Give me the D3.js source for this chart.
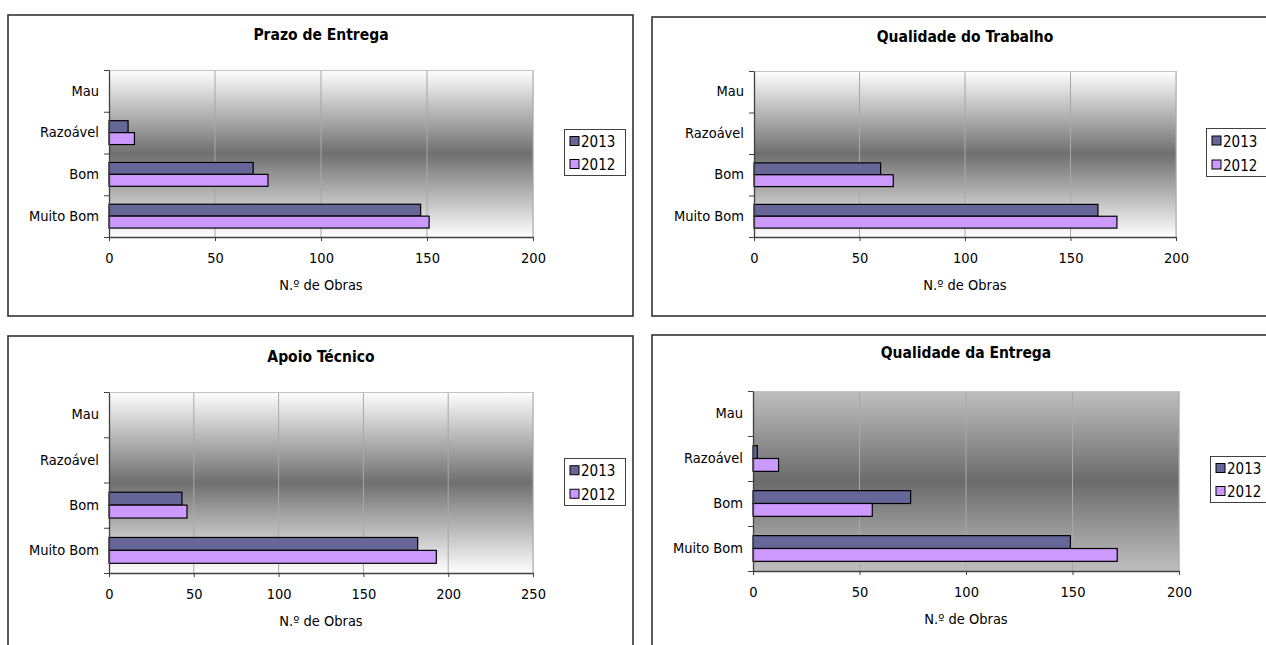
<!DOCTYPE html>
<html>
<head>
<meta charset="utf-8">
<script src="https://cdn.jsdelivr.net/npm/d3@7"></script>
<style>
  html, body { margin: 0; padding: 0; background: #ffffff; }
  svg { display: block; }
  text { font-family: "DejaVu Sans Condensed", "DejaVu Sans", sans-serif; font-stretch: condensed; fill: #000; }
</style>
</head>
<body>
<svg id="chart" width="1266" height="645"></svg>
<script>
// ---------- DATA ----------
const categories = ["Mau", "Razoável", "Bom", "Muito Bom"];
const seriesNames = ["2013", "2012"];
const seriesColors = ["#666699", "#CC99FF"];
const axisTitle = "N.º de Obras";

const titles = ["Prazo de Entrega", "Qualidade do Trabalho", "Apoio Técnico", "Qualidade da Entrega"];
const xMaxes = [200, 200, 250, 200];
const xTicks = [
  [0, 50, 100, 150, 200],
  [0, 50, 100, 150, 200],
  [0, 50, 100, 150, 200, 250],
  [0, 50, 100, 150, 200]
];

const prazo2013 = [0, 9, 68, 147];
const prazo2012 = [0, 12, 75, 151];
const trabalho2013 = [0, 0, 60, 163];
const trabalho2012 = [0, 0, 66, 172];
const apoio2013 = [0, 0, 43, 182];
const apoio2012 = [0, 0, 46, 193];
const entrega2013 = [0, 2, 74, 149];
const entrega2012 = [0, 12, 56, 171];

// ---------- LAYOUT ----------
const FONT = '"DejaVu Sans Condensed", "DejaVu Sans", sans-serif';
const FS = 14.5;

const panels = [
  { box: [8, 15, 633, 316], plot: [109, 70, 533, 237], legend: [564, 129, 625, 175], titleY: 40, bg: "light",
    data: [prazo2013, prazo2012] },
  { box: [652, 17, 1290, 316], plot: [754, 71, 1176, 237], legend: [1206, 128, 1290, 176], titleY: 42, bg: "light",
    data: [trabalho2013, trabalho2012] },
  { box: [8, 336, 633, 660], plot: [109, 392, 533, 573], legend: [564, 458, 625, 505], titleY: 362, bg: "light",
    data: [apoio2013, apoio2012] },
  { box: [652, 335, 1290, 660], plot: [753, 391, 1179, 571], legend: [1210, 456, 1290, 502], titleY: 358, bg: "dark",
    data: [entrega2013, entrega2012] }
];

const svg = d3.select("#chart");
const defs = svg.append("defs");

const gLight = defs.append("linearGradient").attr("id", "gradLight")
  .attr("x1", 0).attr("y1", 0).attr("x2", 0).attr("y2", 1);
gLight.append("stop").attr("offset", "0%").attr("stop-color", "#ffffff");
gLight.append("stop").attr("offset", "50%").attr("stop-color", "#6f6f6f");
gLight.append("stop").attr("offset", "100%").attr("stop-color", "#ffffff");

const gDark = defs.append("linearGradient").attr("id", "gradDark")
  .attr("x1", 0).attr("y1", 0).attr("x2", 0).attr("y2", 1);
gDark.append("stop").attr("offset", "0%").attr("stop-color", "#bfbfbf");
gDark.append("stop").attr("offset", "50%").attr("stop-color", "#6b6b6b");
gDark.append("stop").attr("offset", "100%").attr("stop-color", "#bfbfbf");

panels.forEach((p, i) => {
  const g = svg.append("g");
  const [bx0, by0, bx1, by1] = p.box;
  const [px0, py0, px1, py1] = p.plot;

  // outer chart border
  g.append("rect")
    .attr("x", bx0).attr("y", by0)
    .attr("width", bx1 - bx0).attr("height", by1 - by0)
    .attr("fill", "#ffffff").attr("stroke", "#333333").attr("stroke-width", 1.6);

  const x = d3.scaleLinear().domain([0, xMaxes[i]]).range([px0, px1]);
  const y = d3.scaleBand().domain(categories).range([py0, py1]).paddingInner(0).paddingOuter(0);
  const yInner = d3.scaleBand().domain(seriesNames).range([0, y.bandwidth()]).paddingInner(0).paddingOuter(0.75);
  const yIdx = d3.scaleLinear().domain([0, categories.length]).range([py0, py1]);

  // plot background
  g.append("rect")
    .attr("x", px0).attr("y", py0)
    .attr("width", px1 - px0).attr("height", py1 - py0)
    .attr("fill", p.bg === "dark" ? "url(#gradDark)" : "url(#gradLight)");

  // grid lines
  g.append("g").selectAll("line")
    .data(xTicks[i].filter(t => t > 0))
    .join("line")
    .attr("x1", d => x(d)).attr("x2", d => x(d))
    .attr("y1", py0).attr("y2", py1)
    .attr("stroke", "#a8a8a8").attr("stroke-width", 1);

  // plot border (top & right light grey)
  g.append("path")
    .attr("d", `M${px0},${py0 + 0.5}H${px1 + 0.5}V${py1}`)
    .attr("fill", "none").attr("stroke", "#c4c4c4").attr("stroke-width", 1);

  // bars
  seriesNames.forEach((s, si) => {
    g.append("g").selectAll("rect")
      .data(categories.map((c, ci) => ({ c, v: p.data[si][ci] })).filter(d => d.v > 0))
      .join("rect")
      .attr("x", x(0))
      .attr("y", d => y(d.c) + yInner(s))
      .attr("width", d => x(d.v) - x(0))
      .attr("height", yInner.bandwidth())
      .attr("fill", seriesColors[si])
      .attr("stroke", "#000000").attr("stroke-width", 1.2);
  });

  // x axis
  const xAxis = g.append("g")
    .attr("transform", `translate(0,${py1})`)
    .call(d3.axisBottom(x).tickValues(xTicks[i]).tickSize(4).tickPadding(12).tickSizeOuter(0));
  xAxis.select(".domain").attr("stroke", "#404040").attr("stroke-width", 1.3);
  xAxis.selectAll(".tick line").attr("stroke", "#404040");
  xAxis.selectAll("text").attr("font-size", FS).attr("font-family", FONT);

  // y axis tick marks (at category boundaries)
  const yTicksG = g.append("g")
    .attr("transform", `translate(${px0},0)`)
    .call(d3.axisLeft(yIdx).tickValues(d3.range(categories.length + 1)).tickFormat("").tickSize(5).tickSizeOuter(0));
  yTicksG.select(".domain").attr("stroke", "#404040").attr("stroke-width", 1.3);
  yTicksG.selectAll(".tick line").attr("stroke", "#404040");

  // y axis labels
  const yLab = g.append("g")
    .attr("transform", `translate(${px0},0)`)
    .call(d3.axisLeft(y).tickSize(0).tickPadding(10));
  yLab.select(".domain").remove();
  yLab.selectAll("text").attr("font-size", FS).attr("font-family", FONT);

  // axis title
  g.append("text")
    .attr("x", (px0 + px1) / 2).attr("y", py1 + 53)
    .attr("text-anchor", "middle").attr("font-size", FS)
    .text(axisTitle);

  // chart title
  g.append("text")
    .attr("x", (px0 + px1) / 2).attr("y", p.titleY)
    .attr("text-anchor", "middle").attr("font-size", 15.5).attr("font-weight", "bold")
    .text(titles[i]);

  // legend
  const [lx0, ly0, lx1, ly1] = p.legend;
  g.append("rect")
    .attr("x", lx0 + 0.5).attr("y", ly0 + 0.5)
    .attr("width", lx1 - lx0).attr("height", ly1 - ly0)
    .attr("fill", "#ffffff").attr("stroke", "#404040").attr("stroke-width", 1);
  const rowH = (ly1 - ly0) / 2;
  const lg = g.append("g").selectAll("g")
    .data(seriesNames)
    .join("g")
    .attr("transform", (d, k) => `translate(${lx0 + 6},${ly0 + rowH * (k + 0.5) + 1})`);
  lg.append("rect")
    .attr("x", 0).attr("y", -5).attr("width", 9).attr("height", 9)
    .attr("fill", (d, k) => seriesColors[k])
    .attr("stroke", "#000").attr("stroke-width", 1);
  lg.append("text")
    .attr("x", 11).attr("y", 5.5)
    .attr("font-size", 15)
    .text(d => d);
});
</script>
</body>
</html>
